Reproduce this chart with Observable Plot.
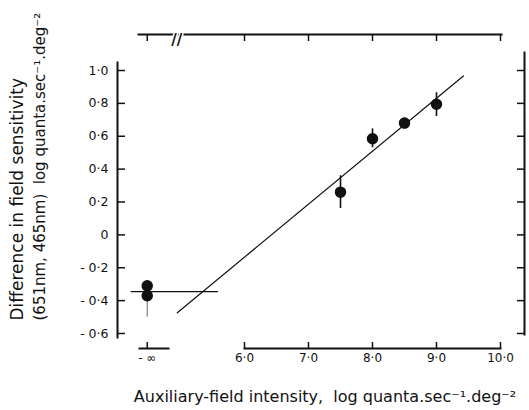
<!DOCTYPE html>
<html><head><meta charset="utf-8">
<script src="https://cdn.jsdelivr.net/npm/d3@7"></script>
<script src="https://cdn.jsdelivr.net/npm/@observablehq/plot@0.6"></script>
<style>body{margin:0;background:#fff}</style>
</head><body><div id="chart"></div>
<script>
// ---- data ----
const NEG_INF_X = 4.48;            // position used for the "-∞" category on the log axis
const xTicks = [NEG_INF_X, 6, 7, 8, 9, 10];
const xTickLabels = ["- ∞", "6·0", "7·0", "8·0", "9·0", "10·0"];
const yTicks = [-0.6, -0.4, -0.2, 0, 0.2, 0.4, 0.6, 0.8, 1.0];
const yTickLabels = ["- 0·6", "- 0·4", "- 0·2", "0", "0·2", "0·4", "0·6", "0·8", "1·0"];
const pointX = [NEG_INF_X, NEG_INF_X, 7.5, 8.0, 8.5, 9.0];
const pointY = [-0.31, -0.37, 0.26, 0.585, 0.68, 0.795];
const errLow = [-0.31, -0.50, 0.16, 0.53, 0.645, 0.72];
const errHigh = [-0.31, -0.37, 0.36, 0.645, 0.71, 0.865];
const fitX = [4.95, 9.42];
const fitY = [-0.474, 0.967];
const baseX = [4.23, 5.58];
const baseY = [-0.345, -0.345];
const breakX = [4.94];
const yLabel1 = "Difference in field sensitivity";
const yLabel2 = "(651nm, 465nm)  log quanta.sec\u207B\u00B9.deg\u207B\u00B2";
const xLabel = "Auxiliary-field intensity,  log quanta.sec\u207B\u00B9.deg\u207B\u00B2";

const pts = pointX.map((x, i) => ({x, y: pointY[i], lo: errLow[i], hi: errHigh[i], inf: x === NEG_INF_X}));
const fit = fitX.map((x, i) => ({x, y: fitY[i]}));
const base = baseX.map((x, i) => ({x, y: baseY[i]}));
const ink = "#111";
const blank = () => "";

const chart = Plot.plot({
  width: 529, height: 410,
  marginLeft: 117, marginRight: 5, marginTop: 34, marginBottom: 62,
  style: {fontFamily: "DejaVu Sans", fontSize: "12px", background: "white", color: ink},
  x: {type: "linear", domain: [6, 10], range: [244, 500]},
  y: {type: "linear", domain: [-0.6, 1.0], range: [333, 70]},
  marks: [
    // axis lines
    Plot.frame({anchor: "left", stroke: ink, strokeWidth: 2, insetTop: 28, insetBottom: 11}),
    Plot.frame({anchor: "right", stroke: ink, strokeWidth: 2, insetTop: 18, insetBottom: 14}),
    Plot.frame({anchor: "top", stroke: ink, strokeWidth: 2, insetLeft: 21, insetRight: 23}),
    Plot.frame({anchor: "bottom", stroke: ink, strokeWidth: 2, insetLeft: 127, insetRight: 24}),
    Plot.frame({anchor: "bottom", stroke: ink, strokeWidth: 2, insetLeft: 22, insetRight: 356}),
    // ticks
    Plot.axisY(yTicks, {anchor: "left", tickSize: -8, tickPadding: 17, strokeWidth: 1.5, label: null,
      tickFormat: d => yTickLabels[yTicks.indexOf(d)], fontSize: 12.5}),
    Plot.axisY(yTicks, {anchor: "right", tickSize: -8, strokeWidth: 1.5, label: null, tickFormat: blank}),
    Plot.axisX(xTicks, {anchor: "bottom", tickSize: -6, tickPadding: 11, strokeWidth: 1.5, label: null,
      tickFormat: d => xTickLabels[xTicks.indexOf(d)], fontSize: 12}),
    Plot.axisX(xTicks, {anchor: "top", tickSize: -6, strokeWidth: 1.5, label: null, tickFormat: blank}),
    Plot.text(breakX, {x: d => d, frameAnchor: "top", text: () => "//", fontSize: 15,
      fontWeight: "bold", stroke: "white", strokeWidth: 3, fill: ink}),
    // data
    Plot.line(base, {x: "x", y: "y", stroke: ink, strokeWidth: 1.3}),
    Plot.line(fit, {x: "x", y: "y", stroke: ink, strokeWidth: 1.2}),
    Plot.ruleX(pts, {x: "x", y1: "lo", y2: "hi", stroke: d => d.inf ? "#666" : ink, strokeWidth: d => d.inf ? 1 : 1.6}),
    Plot.dot(pts, {x: "x", y: "y", r: 5, fill: ink, stroke: ink}),
    // labels
    Plot.text([yLabel1], {frameAnchor: "bottom-left", rotate: -90, textAnchor: "start", dx: -95, dy: -28, fontSize: 17}),
    Plot.text([yLabel2], {frameAnchor: "bottom-left", rotate: -90, textAnchor: "start", dx: -73, dy: -28, fontSize: 15}),
    Plot.text([xLabel], {frameAnchor: "bottom", dx: 4, dy: 53, fontSize: 16})
  ]
});
document.getElementById("chart").appendChild(chart);
</script>
</body></html>
